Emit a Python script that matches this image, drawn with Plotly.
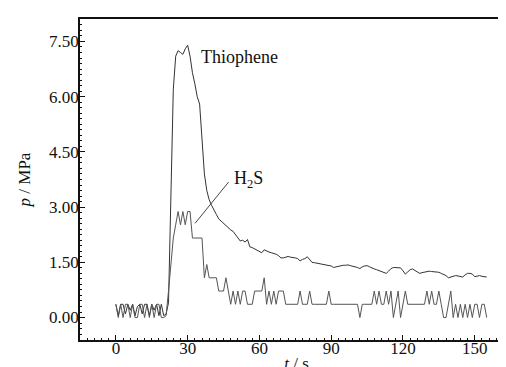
import plotly.graph_objects as go

# time axis (s), 1 s sampling
t = list(range(0, 156))

thiophene = [
    0.36, 0.05, 0.36, 0.36, 0.10, 0.36, 0.20, 0.36, 0.05, 0.30,
    0.36, 0.10, 0.36, 0.36, 0.05, 0.36, 0.20, 0.36, 0.05, 0.36,
    0.05, 0.10, 0.40, 3.60, 6.20, 7.10, 7.25, 7.20, 7.15, 7.30,
    7.40, 7.10, 6.65, 6.35, 6.00, 5.80, 4.90, 3.90, 3.45, 3.20,
    3.05, 2.90, 2.80, 2.68, 2.62, 2.55, 2.50, 2.44, 2.38, 2.34,
    2.25, 2.15, 2.08, 2.10, 2.05, 2.12, 1.92, 1.90, 1.86, 1.84,
    1.78, 1.76, 1.84, 1.80, 1.78, 1.76, 1.75, 1.72, 1.68, 1.62,
    1.62, 1.65, 1.66, 1.64, 1.64, 1.62, 1.60, 1.54, 1.58, 1.60,
    1.65, 1.56, 1.50, 1.49, 1.48, 1.47, 1.45, 1.44, 1.43, 1.42,
    1.40, 1.36, 1.38, 1.40, 1.41, 1.42, 1.42, 1.43, 1.41, 1.40,
    1.39, 1.36, 1.33, 1.38, 1.40, 1.41, 1.38, 1.34, 1.32, 1.30,
    1.28, 1.26, 1.23, 1.20, 1.26, 1.33, 1.36, 1.36, 1.37, 1.35,
    1.27, 1.18, 1.24, 1.30, 1.32, 1.28, 1.24, 1.20, 1.22, 1.24,
    1.25, 1.26, 1.25, 1.25, 1.25, 1.23, 1.20, 1.18, 1.14, 1.08,
    1.10, 1.12, 1.14, 1.13, 1.12, 1.10, 1.16, 1.20, 1.20, 1.18,
    1.11, 1.13, 1.14, 1.12, 1.12, 1.10,
]

h2s = [
    0.36, 0.00, 0.36, 0.00, 0.36, 0.36, 0.00, 0.36, 0.00, 0.00,
    0.36, 0.36, 0.00, 0.36, 0.00, 0.36, 0.00, 0.36, 0.36, 0.00,
    0.00, 0.05, 0.72, 1.44, 2.16, 2.52, 2.88, 2.52, 2.88, 2.52,
    2.88, 2.88, 2.16, 2.16, 2.16, 2.16, 2.16, 1.08, 1.44, 1.08,
    1.08, 1.08, 1.08, 0.72, 0.72, 0.72, 1.08, 0.72, 0.36, 0.72,
    0.36, 0.72, 0.36, 0.72, 0.72, 0.36, 0.36, 0.36, 0.72, 0.72,
    0.72, 0.72, 1.08, 0.36, 0.72, 0.36, 0.72, 0.36, 0.72, 0.72,
    0.72, 0.36, 0.36, 0.36, 0.36, 0.36, 0.36, 0.72, 0.36, 0.36,
    0.36, 0.72, 0.36, 0.36, 0.36, 0.36, 0.36, 0.36, 0.36, 0.72,
    0.36, 0.36, 0.36, 0.36, 0.36, 0.36, 0.36, 0.36, 0.36, 0.36,
    0.36, 0.36, 0.00, 0.36, 0.36, 0.36, 0.36, 0.36, 0.72, 0.36,
    0.72, 0.36, 0.36, 0.72, 0.36, 0.72, 0.00, 0.36, 0.72, 0.00,
    0.36, 0.72, 0.36, 0.36, 0.36, 0.36, 0.36, 0.36, 0.36, 0.36,
    0.72, 0.36, 0.72, 0.36, 0.36, 0.72, 0.36, 0.00, 0.00, 0.36,
    0.72, 0.00, 0.36, 0.00, 0.36, 0.00, 0.36, 0.00, 0.36, 0.00,
    0.36, 0.36, 0.00, 0.36, 0.36, 0.00,
]

y_ticks = [0.0, 1.5, 3.0, 4.5, 6.0, 7.5]
x_ticks = [0, 30, 60, 90, 120, 150]

FONT = "'Liberation Serif', 'Times New Roman', serif"

fig = go.Figure()
fig.add_trace(go.Scatter(x=t, y=thiophene, mode="lines", name="Thiophene",
                         line=dict(color="#333333", width=1)))
fig.add_trace(go.Scatter(x=t, y=h2s, mode="lines", name="H2S",
                         line=dict(color="#555555", width=1)))

fig.add_annotation(x=51.7, y=7.07, text="Thiophene", showarrow=False,
                   font=dict(family=FONT, size=18, color="#111"))
fig.add_annotation(x=55.5, y=3.74, text="H<sub>2</sub>S", showarrow=False,
                   font=dict(family=FONT, size=18, color="#111"))
fig.add_shape(type="line", x0=47.1, y0=3.68, x1=33.1, y1=2.56,
              line=dict(color="#444", width=1))

fig.update_layout(
    width=506, height=367,
    margin=dict(l=72, r=1, t=11, b=35, autoexpand=False),
    paper_bgcolor="white", plot_bgcolor="white",
    showlegend=False,
    font=dict(family=FONT, size=17, color="#111"),
)
fig.update_xaxes(
    range=[-15, 166], tickvals=x_ticks, ticks="inside", ticklen=5,
    tickcolor="#111", tickwidth=1,
    tickfont=dict(family=FONT, size=17),
    ticklabelstandoff=-8, automargin=False,
    minor=dict(dtick=3, tick0=0, ticks="inside", ticklen=2, tickcolor="#111"),
    showline=True, linecolor="#111", linewidth=1.5, mirror=True,
    showgrid=False, zeroline=False,
    title=dict(text="<i>t</i> / s", standoff=0, font=dict(family=FONT, size=17)),
)
fig.update_yaxes(
    range=[-0.61, 8.11], tickvals=y_ticks, tickformat=".2f",
    ticks="inside", ticklen=5, tickcolor="#111", tickwidth=1,
    tickfont=dict(family=FONT, size=17), automargin=False,
    ticklabelstandoff=-4,
    minor=dict(dtick=0.15, tick0=0, ticks="inside", ticklen=2, tickcolor="#111"),
    showline=True, linecolor="#111", linewidth=1.5,
    showgrid=False, zeroline=False,
    title=dict(text="<i>p</i> / MPa", standoff=14, font=dict(family=FONT, size=17)),
)

fig.write_html("out.html")
